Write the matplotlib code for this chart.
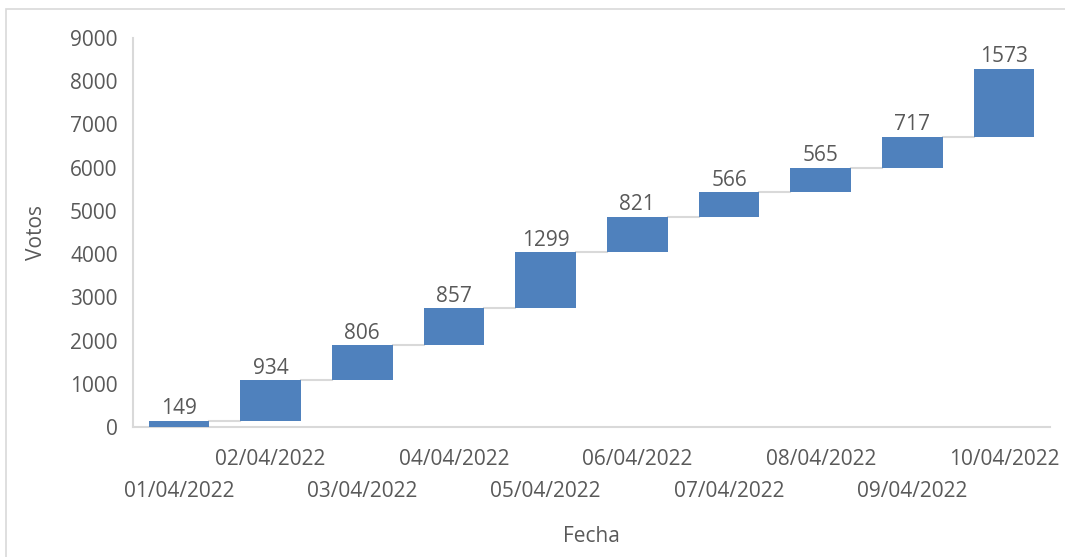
import matplotlib.pyplot as plt
from matplotlib.patches import Rectangle
import numpy as np

fechas = ['01/04/2022', '02/04/2022', '03/04/2022', '04/04/2022', '05/04/2022',
          '06/04/2022', '07/04/2022', '08/04/2022', '09/04/2022', '10/04/2022']
votos = [149, 934, 806, 857, 1299, 821, 566, 565, 717, 1573]

plt.rcParams['font.family'] = ['Open Sans', 'DejaVu Sans']
gris = '#595959'
linea = '#D9D9D9'
azul = '#4F81BD'

fin = np.cumsum(votos)
inicio = fin - np.array(votos)
x = np.arange(len(votos))

fig = plt.figure(figsize=(10.65, 5.57), dpi=100)
ax = fig.add_axes([133 / 1065, 1 - 427 / 557, (1050 - 133) / 1065, (427 - 38) / 557])

ax.bar(x, votos, bottom=inicio, width=0.66, color=azul, zorder=3)

# conectores entre barras
for i in range(len(votos) - 1):
    ax.plot([x[i] + 0.33, x[i + 1] - 0.33], [fin[i], fin[i]], color=linea, lw=1.5, zorder=2)

for i in range(len(votos)):
    ax.annotate(str(votos[i]), (x[i], fin[i]), xytext=(0, 1), textcoords='offset points',
                ha='center', va='bottom', fontsize=15, color=gris)

ax.set_xlim(-0.5, len(votos) - 0.5)
ax.set_ylim(0, 9000)
ax.set_yticks(range(0, 9001, 1000))
ax.set_xticks(x)
ax.set_xticklabels(fechas)
for i, t in enumerate(ax.xaxis.get_major_ticks()):
    t.set_pad(39 if i % 2 == 0 else 16)

ax.tick_params(axis='both', length=0, labelsize=15, labelcolor=gris)
ax.tick_params(axis='y', pad=11)
for s in ['top', 'right']:
    ax.spines[s].set_visible(False)
for s in ['left', 'bottom']:
    ax.spines[s].set_color(linea)
    ax.spines[s].set_linewidth(1.5)

fig.text(591 / 1065, 1 - 537 / 557, 'Fecha', ha='center', va='center', fontsize=15, color=gris)
fig.text(37 / 1065, 1 - 233 / 557, 'Votos', ha='center', va='center', fontsize=15, color=gris,
         rotation=90)

fig.patches.append(Rectangle((6 / 1065, -0.1), 1.1, 1.1 - 9 / 557, transform=fig.transFigure,
                             fill=False, edgecolor=linea, lw=1.2))

fig.savefig('out.png', dpi=100)
